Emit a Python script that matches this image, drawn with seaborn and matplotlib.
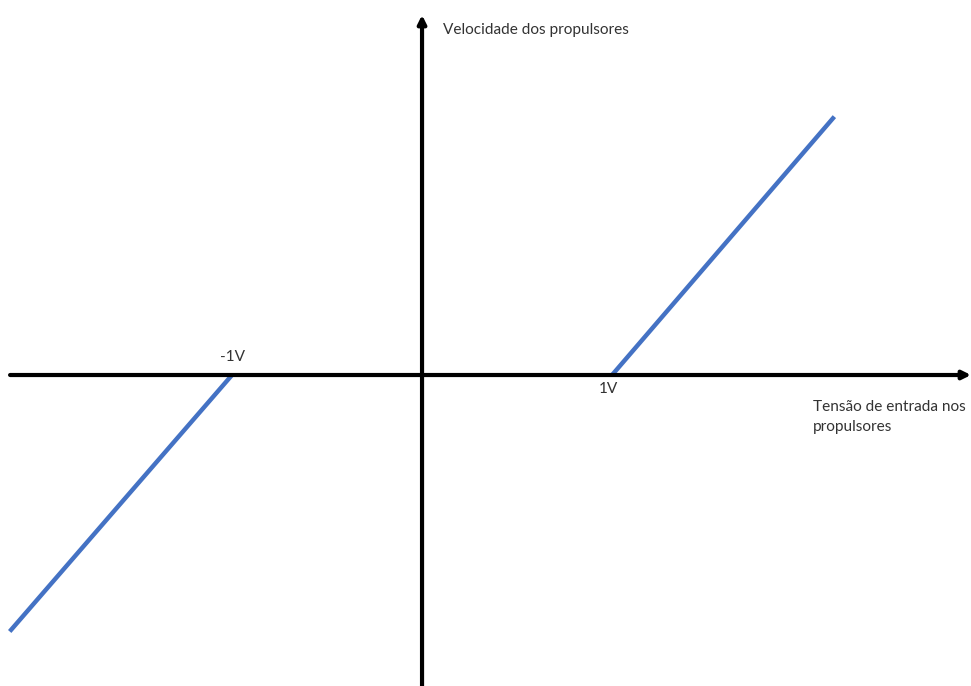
import matplotlib
matplotlib.use("Agg")
import matplotlib.pyplot as plt
import seaborn as sns
import pandas as pd

# Thruster dead-zone characteristic: no speed between -1 V and 1 V
segments = ["neg", "neg", "pos", "pos"]
voltage = [-2.17, -1.0, 1.0, 2.17]
speed = [-1.35, 0.0, 0.0, 1.36]
tick_labels = {"-1V": -1.0, "1V": 1.0}
x_title = "Tensão de entrada nos\npropulsores"
y_title = "Velocidade dos propulsores"

df = pd.DataFrame({"segment": segments, "voltage": voltage, "speed": speed})

sns.set_theme(style="white")
plt.rcParams["font.family"] = ["Lato", "DejaVu Sans"]

fig = plt.figure(figsize=(9.71, 6.86), dpi=100)
ax = fig.add_axes([0, 0, 1, 1])

# axes with arrowheads
arrow = dict(arrowstyle="-|>", lw=3.0, color="black", mutation_scale=12,
             shrinkA=0, shrinkB=0)
ax.annotate("", xy=(2.889, 0), xytext=(-2.168, 0), arrowprops=arrow)
ax.annotate("", xy=(0, 1.895), xytext=(0, -1.637), arrowprops=arrow)

sns.lineplot(data=df, x="voltage", y="speed", units="segment", estimator=None,
             color="#4472C4", linewidth=3.2, ax=ax, legend=False)
for line in ax.lines:
    line.set_solid_capstyle("butt")
ax.set_xlim(-2.221, 2.889)
ax.set_ylim(-1.637, 1.974)
ax.axis("off")

fs = 11.1
txt = "#333333"
ax.text(tick_labels["-1V"], 0.095, "-1V", ha="center", va="center",
        fontsize=fs, color=txt)
ax.text(tick_labels["1V"] - 0.02, -0.074, "1V", ha="center", va="center",
        fontsize=fs, color=txt)
ax.text(0.11, 1.816, y_title, ha="left", va="center", fontsize=fs, color=txt)
ax.text(2.058, -0.13, x_title, ha="left", va="top", fontsize=fs,
        color=txt, linespacing=1.55)

fig.savefig("out.png", dpi=100)
